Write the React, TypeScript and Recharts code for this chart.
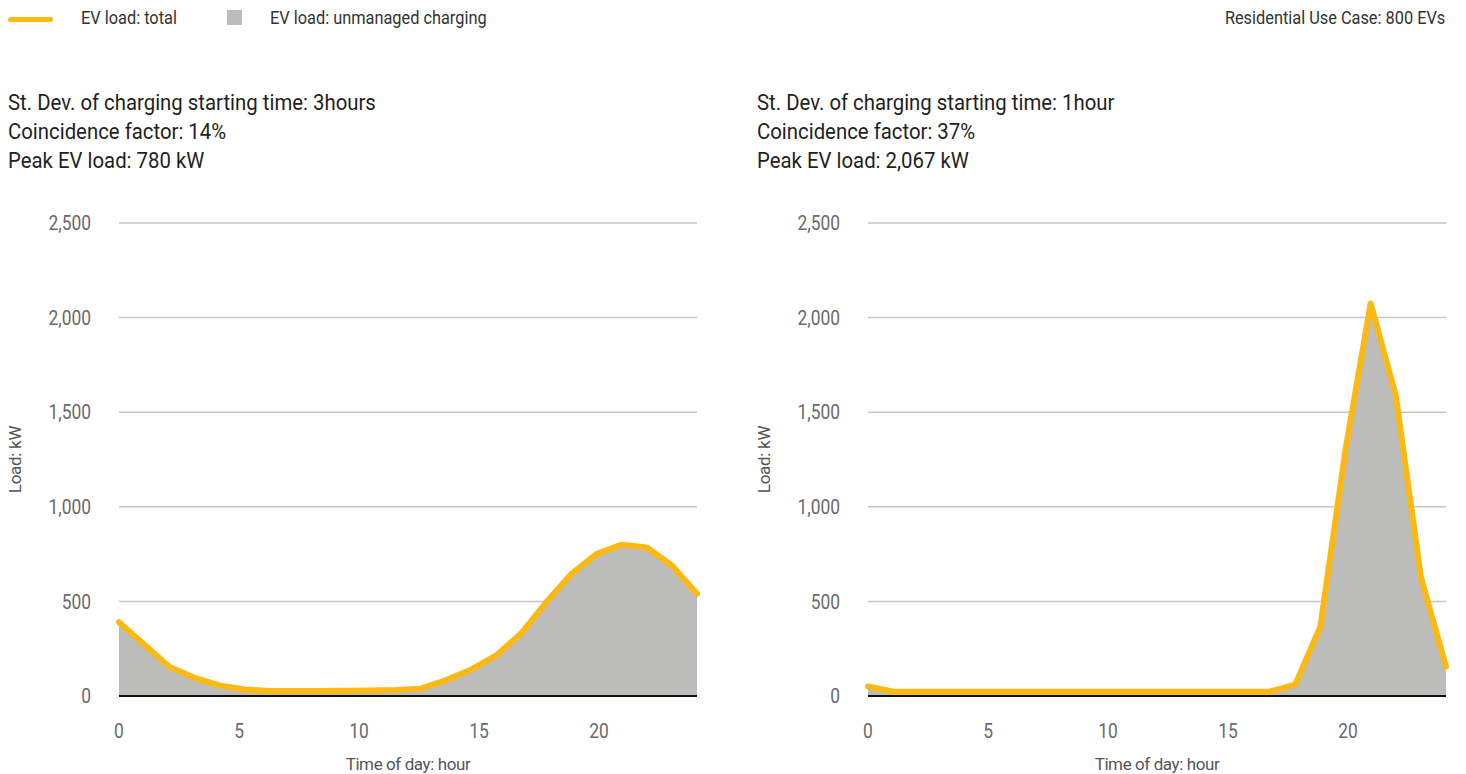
import React from 'react';
import { ComposedChart, Area, Line, XAxis, YAxis, CartesianGrid } from 'recharts';

// hourly EV load (kW)
const hours = [0, 1, 2, 3, 4, 5, 6, 7, 8, 9, 10, 11, 12, 13, 14, 15, 16, 17, 18, 19, 20, 21, 22, 23];
const load3h = [390, 272, 155, 96, 56, 34, 26, 26, 27, 28, 29, 32, 39, 83, 139, 213, 330, 495, 645, 750, 800, 785, 690, 540];
const load1h = [50, 23, 23, 23, 23, 23, 23, 23, 23, 23, 23, 23, 23, 23, 23, 23, 23, 60, 366, 1300, 2075, 1590, 630, 155];

const yTicks = [0, 500, 1000, 1500, 2000, 2500];
const xTicks = [0, 5, 10, 15, 20];

const title3h = ['St. Dev. of charging starting time: 3hours', 'Coincidence factor: 14%', 'Peak EV load: 780 kW'];
const title1h = ['St. Dev. of charging starting time: 1hour', 'Coincidence factor: 37%', 'Peak EV load: 2,067 kW'];

const FONT = 'Roboto, sans-serif';
const YELLOW = '#FDB913';
const GREY = '#bcbcbb';
const TICK_GREY = '#6a6a6a';

// Roboto squeezed a bit to look like the condensed face of the original
const YTick = ({ x, y, payload }: any) => (
  <text
    transform={`translate(${x},${y}) scale(0.87,1)`}
    textAnchor="end"
    dy="0.355em"
    fill={TICK_GREY}
    fontSize={20}
    fontFamily={FONT}
  >
    {Number(payload.value).toLocaleString('en-US')}
  </text>
);

const XTick = ({ x, y, payload }: any) => (
  <text
    transform={`translate(${x},${y}) scale(0.87,1)`}
    textAnchor="middle"
    dy="0.71em"
    fill={TICK_GREY}
    fontSize={20}
    fontFamily={FONT}
  >
    {payload.value}
  </text>
);

const squeeze = (ratio: number, origin: string): React.CSSProperties => ({
  display: 'inline-block',
  transform: `scaleX(${ratio})`,
  transformOrigin: origin,
});

type PanelProps = {
  loads: number[];
  lines: string[];
  left: number;
  width: number;
  rightMargin: number;
};

const Panel = ({ loads, lines, left, width, rightMargin }: PanelProps) => {
  const rows = hours.map((hour, i) => ({ hour, load: loads[i] }));
  return (
    <>
      <div
        style={{
          position: 'absolute',
          left: left + 8,
          top: 88,
          fontSize: 22,
          lineHeight: '29px',
          color: '#231f20',
          whiteSpace: 'nowrap',
        }}
      >
        {lines.map((l) => (
          <div key={l}>
            <span style={squeeze(0.925, 'left center')}>{l}</span>
          </div>
        ))}
      </div>
      <div style={{ position: 'absolute', left, top: 200 }}>
        <ComposedChart width={width} height={574} data={rows} margin={{ top: 23, right: rightMargin, left: 0, bottom: 0 }}>
          <CartesianGrid vertical={false} stroke="#c6c6c6" strokeWidth={1.5} />
          <XAxis xAxisId="points" dataKey="hour" type="category" scale="point" height={0} hide />
          <XAxis
            dataKey="hour"
            type="number"
            domain={[0, 24.08]}
            allowDataOverflow
            ticks={xTicks}
            height={78}
            tickLine={false}
            tickSize={0}
            tickMargin={28}
            axisLine={{ stroke: '#111', strokeWidth: 2 }}
            tick={<XTick />}
            label={{
              value: 'Time of day: hour',
              position: 'insideBottom',
              offset: 4,
              fill: '#555',
              fontSize: 17,
              fontFamily: FONT,
              letterSpacing: -0.4,
            }}
          />
          <YAxis
            domain={[0, 2500]}
            ticks={yTicks}
            width={119}
            axisLine={false}
            tickLine={false}
            tickSize={0}
            tickMargin={28}
            tick={<YTick />}
            label={{
              value: 'Load: kW',
              angle: -90,
              position: 'insideLeft',
              offset: 15,
              fill: '#555',
              fontSize: 17,
              fontFamily: FONT,
              letterSpacing: -0.3,
              style: { textAnchor: 'middle' },
            }}
          />
          <Area xAxisId="points" type="linear" dataKey="load" stroke="none" fill={GREY} fillOpacity={1} isAnimationActive={false} />
          <Line
            xAxisId="points"
            type="linear"
            dataKey="load"
            stroke={YELLOW}
            strokeWidth={6}
            strokeLinecap="round"
            strokeLinejoin="round"
            dot={false}
            isAnimationActive={false}
          />
        </ComposedChart>
      </div>
    </>
  );
};

export default function App() {
  return (
    <div
      style={{
        position: 'absolute',
        left: 0,
        top: 0,
        width: 1466,
        height: 774,
        overflow: 'hidden',
        background: '#fff',
        fontFamily: FONT,
      }}
    >
      {/* legend row */}
      <div style={{ position: 'absolute', left: 8, top: 17, width: 45, height: 5, borderRadius: 3, background: YELLOW }} />
      <div style={{ position: 'absolute', left: 81, top: 6, fontSize: 19, color: '#333', whiteSpace: 'nowrap' }}>
        <span style={squeeze(0.86, 'left center')}>EV load: total</span>
      </div>
      <div style={{ position: 'absolute', left: 227, top: 10, width: 15, height: 15, background: GREY }} />
      <div style={{ position: 'absolute', left: 270, top: 6, fontSize: 19, color: '#333', whiteSpace: 'nowrap' }}>
        <span style={squeeze(0.86, 'left center')}>EV load: unmanaged charging</span>
      </div>
      <div style={{ position: 'absolute', right: 21, top: 6, fontSize: 19, color: '#333', whiteSpace: 'nowrap' }}>
        <span style={squeeze(0.86, 'right center')}>Residential Use Case: 800 EVs</span>
      </div>

      <Panel loads={load3h} lines={title3h} left={0} width={720} rightMargin={23} />
      <Panel loads={load1h} lines={title1h} left={749} width={717} rightMargin={20} />
    </div>
  );
}
